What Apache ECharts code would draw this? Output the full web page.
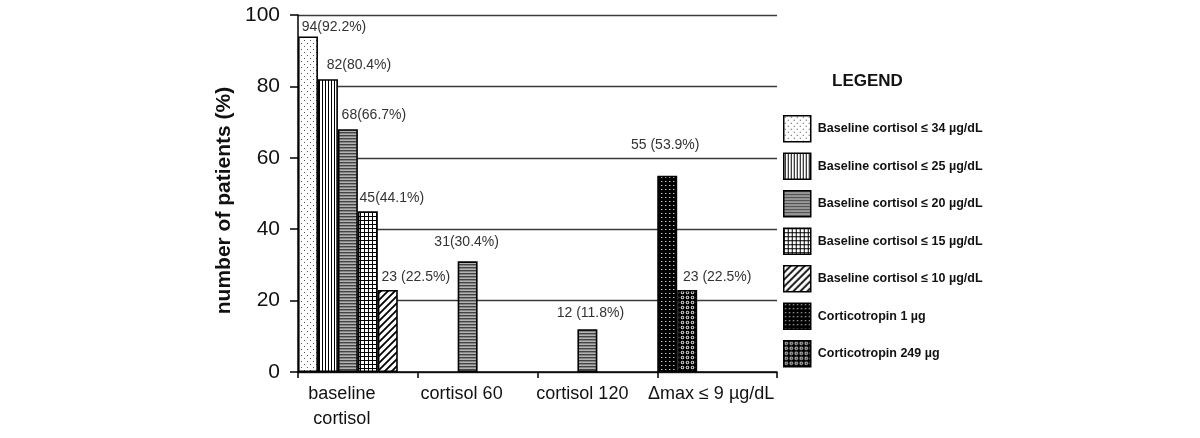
<!DOCTYPE html>
<html><head><meta charset="utf-8">
<script src="https://cdn.jsdelivr.net/npm/echarts@6/dist/echarts.min.js"></script>
<style>html,body{margin:0;padding:0;background:#fff}#c{width:1200px;height:438px}</style>
</head><body><div id="c"></div>
<script>
// ---------- data ----------
const categories = ['baseline\ncortisol', 'cortisol 60', 'cortisol 120', 'Δmax ≤ 9 µg/dL'];
const seriesNames = [
  'Baseline cortisol ≤ 34 µg/dL',
  'Baseline cortisol ≤ 25 µg/dL',
  'Baseline cortisol ≤ 20 µg/dL',
  'Baseline cortisol ≤ 15 µg/dL',
  'Baseline cortisol ≤ 10 µg/dL',
  'Corticotropin 1 µg',
  'Corticotropin 249 µg'
];
const base34 = [94, null, null, null];
const base25 = [82, null, null, null];
const base20 = [68, 31, 12, null];
const base15 = [45, null, null, null];
const base10 = [23, null, null, null];
const acth1 = [null, null, null, 55];
const acth249 = [null, null, null, 23];

const text34 = ['94(92.2%)', '', '', ''];
const text25 = ['82(80.4%)', '', '', ''];
const text20 = ['68(66.7%)', '31(30.4%)', '12 (11.8%)', ''];
const text15 = ['45(44.1%)', '', '', ''];
const text10 = ['23 (22.5%)', '', '', ''];
const text1 = ['', '', '', '55 (53.9%)'];
const text249 = ['', '', '', '23 (22.5%)'];

const yMin = 0, yMax = 100, yStep = 20;

// ---------- styles ----------
const off34 = [[26, -2], null, null, null];
const off25 = [[31, -7], null, null, null];
const off20 = [[26, -7], [-1, -12], [3, -9], null];
const off15 = [[24, -6], null, null, null];
const off10 = [[28, -6], null, null, null];
const off1 = [null, null, null, [-2, -24]];
const off249 = [null, null, null, [30, -6]];
const catLabelPadding = [[0, 32, 0, 0], [0, 32, 0, 0], [0, 30, 0, 0], [0, 12, 0, 0]];

function pat(w, h, draw) {
  const c = document.createElement('canvas');
  c.width = w; c.height = h;
  const g = c.getContext('2d');
  draw(g, w, h);
  return { image: c, repeat: 'repeat' };
}
const fill34 = pat(6, 6, (g) => { g.fillStyle = '#fff'; g.fillRect(0,0,6,6); g.fillStyle = '#555'; g.fillRect(1,1,1,1); g.fillRect(4,4,1,1); });
const fill25 = pat(3, 3, (g) => { g.fillStyle = '#fff'; g.fillRect(0,0,3,3); g.fillStyle = '#000'; g.fillRect(1,0,1,3); });
const fill20 = pat(3, 3, (g) => { g.fillStyle = '#444'; g.fillRect(0,0,3,1); g.fillStyle = '#858585'; g.fillRect(0,1,3,1); g.fillStyle = '#b3b3b3'; g.fillRect(0,2,3,1); });
const fill15 = pat(4, 4, (g) => { g.fillStyle = '#fff'; g.fillRect(0,0,4,4); g.fillStyle = '#000'; g.fillRect(0,0,4,1); g.fillRect(0,0,1,4); });
const fill10 = pat(7, 7, (g) => {
  g.fillStyle = '#fff'; g.fillRect(0,0,7,7);
  g.strokeStyle = '#000'; g.lineWidth = 1.8;
  g.beginPath(); g.moveTo(-1, 8); g.lineTo(8, -1); g.moveTo(-2, 2); g.lineTo(2, -2); g.moveTo(5, 9); g.lineTo(9, 5); g.stroke();
});
const fill1 = pat(4, 4, (g) => { g.fillStyle = '#000'; g.fillRect(0,0,4,4); g.fillStyle = '#c8c8c8'; g.fillRect(1,1,1,1); g.fillStyle = '#555'; g.fillRect(2,1,1,1); });
const fill249 = pat(5, 5, (g) => {
  g.fillStyle = '#000'; g.fillRect(0,0,5,5);
  g.fillStyle = '#fff'; g.beginPath(); g.arc(2.5, 2.5, 1.7, 0, Math.PI*2); g.fill();
  g.fillStyle = '#000'; g.beginPath(); g.arc(2.5, 2.5, 0.9, 0, Math.PI*2); g.fill();
});

const FONT = 'Liberation Sans, Arial, sans-serif';

function mk(name, stack, vals, texts, offs, fill) {
  return {
    name: name, type: 'bar', stack: stack,
    barGap: '0%', barCategoryGap: '0%',
    itemStyle: { color: fill, borderColor: '#000', borderWidth: 1.6 },
    emphasis: { disabled: true },
    label: { fontFamily: FONT, fontSize: 14, color: '#333', lineHeight: 14 },
    data: vals.map((v, i) => v == null ? '-' : {
      value: v,
      label: { show: texts[i] !== '', position: 'top', distance: 0, offset: offs[i] || [0, 0], formatter: texts[i] }
    })
  };
}

const series = [
  mk(seriesNames[0], 's1', base34, text34, off34, fill34),
  mk(seriesNames[1], 's2', base25, text25, off25, fill25),
  mk(seriesNames[2], 's3', base20, text20, off20, fill20),
  mk(seriesNames[3], 's4', base15, text15, off15, fill15),
  mk(seriesNames[4], 's5', base10, text10, off10, fill10),
  mk(seriesNames[5], 's1', acth1, text1, off1, fill1),
  mk(seriesNames[6], 's2', acth249, text249, off249, fill249),
  { name: 'pad', type: 'bar', stack: 's6', barGap: '0%', barCategoryGap: '0%', data: ['-', '-', '-', '-'] }
];

const chart = echarts.init(document.getElementById('c'), null, { renderer: 'canvas' });
chart.setOption({
  animation: false,
  backgroundColor: '#fff',
  title: {
    text: 'LEGEND', left: 827, top: 68,
    textStyle: { fontFamily: FONT, fontSize: 17, fontWeight: 'bold', color: '#111' }
  },
  legend: {
    data: seriesNames,
    orient: 'vertical', left: 783, top: 115, padding: 0,
    itemWidth: 27, itemHeight: 26, itemGap: 10,
    icon: 'rect',
    itemStyle: { borderColor: '#000', borderWidth: 1.5 },
    textStyle: { fontFamily: FONT, fontSize: 12.5, fontWeight: 'bold', color: '#111', padding: [0, 0, 0, 2] },
    selectedMode: false
  },
  grid: { left: 298, right: 423, top: 15, bottom: 66, containLabel: false },
  xAxis: {
    type: 'category',
    data: categories.map((c, i) => ({ value: c, textStyle: { padding: catLabelPadding[i] } })),
    axisLine: { show: true, lineStyle: { color: '#000', width: 1.5 } },
    axisTick: { show: true, length: 6, lineStyle: { color: '#000', width: 1.5 } },
    axisLabel: {
      fontFamily: FONT, fontSize: 18, color: '#111', lineHeight: 25, margin: 10, interval: 0
    },
    splitLine: { show: false }
  },
  yAxis: {
    type: 'value', min: yMin, max: yMax, interval: yStep,
    name: 'number of patients (%)', nameLocation: 'middle', nameGap: 63, nameRotate: 90,
    nameTextStyle: { fontFamily: FONT, fontSize: 21, fontWeight: 'bold', color: '#111', padding: [0, 14, 0, 0] },
    axisLine: { show: true, lineStyle: { color: '#000', width: 1.5 } },
    axisTick: { show: true, inside: false, length: 8, lineStyle: { color: '#000', width: 1.5 } },
    axisLabel: { fontFamily: FONT, fontSize: 21, color: '#111', margin: 18 },
    splitLine: { show: true, lineStyle: { color: '#3a3a3a', width: 1.4 } }
  },
  series: series
});
</script>
</body></html>
